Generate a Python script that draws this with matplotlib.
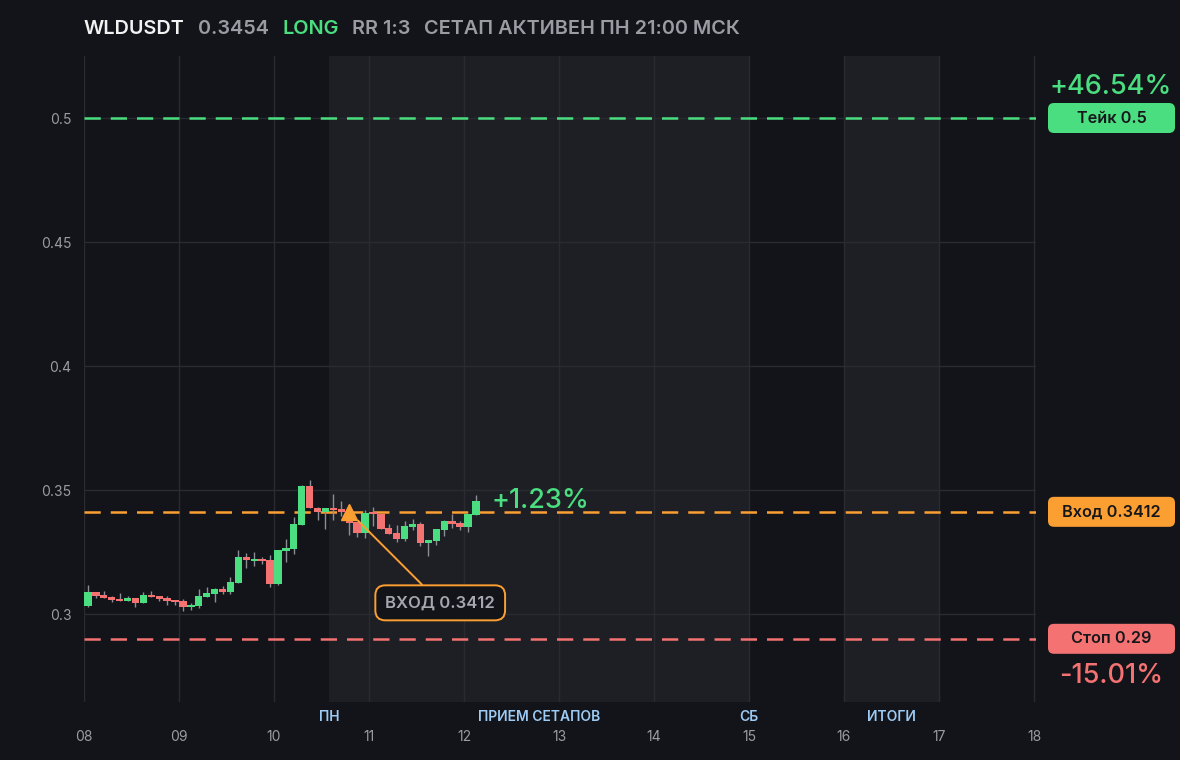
import matplotlib
matplotlib.use("Agg")
import matplotlib.pyplot as plt
from matplotlib.patches import FancyBboxPatch
import numpy as np

plt.rcParams['font.family'] = ['Inter', 'DejaVu Sans']

# ---------------- data ----------------
symbol = "WLDUSDT"
last_price_label = "0.3454"
side = "LONG"
rr_label = "RR 1:3"
setup_label = "СЕТАП АКТИВЕН ПН 21:00 МСК"

start_day = 8.0          # first candle day
candle_hours = 2         # 2h candles

opens = [0.3034, 0.3089, 0.3075, 0.3069, 0.3061, 0.3052, 0.3065, 0.3044, 0.3077, 0.3073,
         0.3065, 0.3057, 0.3052, 0.3028, 0.3032, 0.3069, 0.3081, 0.3101, 0.3089, 0.3125,
         0.3230, 0.3214, 0.3222, 0.3218, 0.3121, 0.3254, 0.3262, 0.3359, 0.3516, 0.3427,
         0.3411, 0.3427, 0.3423, 0.3375, 0.3371, 0.3327, 0.3411, 0.3403, 0.3347, 0.3327,
         0.3302, 0.3351, 0.3363, 0.3286, 0.3294, 0.3339, 0.3375, 0.3367, 0.3351, 0.3399]
closes = [0.3089, 0.3074, 0.3065, 0.3057, 0.3052, 0.3065, 0.3044, 0.3077, 0.3069, 0.3061,
          0.3052, 0.3048, 0.3028, 0.3036, 0.3073, 0.3085, 0.3101, 0.3089, 0.3129, 0.3230,
          0.3218, 0.3222, 0.3214, 0.3121, 0.3258, 0.3266, 0.3363, 0.3516, 0.3427, 0.3411,
          0.3427, 0.3419, 0.3411, 0.3367, 0.3327, 0.3407, 0.3403, 0.3343, 0.3323, 0.3302,
          0.3355, 0.3363, 0.3286, 0.3298, 0.3343, 0.3375, 0.3363, 0.3351, 0.3403, 0.3454]
highs = [0.3117, 0.3090, 0.3093, 0.3073, 0.3085, 0.3073, 0.3065, 0.3089, 0.3093, 0.3073,
         0.3073, 0.3057, 0.3061, 0.3044, 0.3101, 0.3109, 0.3105, 0.3113, 0.3149, 0.3258,
         0.3246, 0.3250, 0.3230, 0.3238, 0.3258, 0.3302, 0.3391, 0.3520, 0.3540, 0.3431,
         0.3427, 0.3484, 0.3456, 0.3431, 0.3371, 0.3419, 0.3431, 0.3403, 0.3363, 0.3359,
         0.3375, 0.3383, 0.3371, 0.3298, 0.3343, 0.3379, 0.3403, 0.3375, 0.3403, 0.3480]
lows = [0.3029, 0.3066, 0.3064, 0.3050, 0.3052, 0.3052, 0.3028, 0.3044, 0.3068, 0.3052,
        0.3036, 0.3036, 0.3012, 0.3016, 0.3024, 0.3068, 0.3048, 0.3081, 0.3081, 0.3125,
        0.3186, 0.3194, 0.3202, 0.3109, 0.3117, 0.3210, 0.3242, 0.3359, 0.3427, 0.3379,
        0.3343, 0.3379, 0.3395, 0.3319, 0.3310, 0.3306, 0.3355, 0.3343, 0.3323, 0.3290,
        0.3294, 0.3339, 0.3274, 0.3234, 0.3278, 0.3315, 0.3347, 0.3339, 0.3331, 0.3399]

take_price = 0.5
entry_price = 0.3412
stop_price = 0.29
entry_candle = 33

x_ticks = [8, 9, 10, 11, 12, 13, 14, 15, 16, 17, 18]
x_tick_labels = ["08", "09", "10", "11", "12", "13", "14", "15", "16", "17", "18"]
y_ticks = [0.3, 0.35, 0.4, 0.45, 0.5]
y_tick_labels = ["0.3", "0.35", "0.4", "0.45", "0.5"]

band1 = (10 + 14 / 24, 15.0)   # приём сетапов
band2 = (16.0, 17.0)           # итоги
band_labels = [("ПН", band1[0]), ("ПРИЕМ СЕТАПОВ", (band1[0] + band1[1]) / 2),
               ("СБ", band1[1]), ("ИТОГИ", (band2[0] + band2[1]) / 2)]

# ---------------- style ----------------
BG = "#131419"
BAND = "#1e1f24"
GRID = "#2a2b31"
GREEN = "#4ade80"
RED = "#f47272"
ORANGE = "#fb9f33"
WICK = "#8b8e96"
GREY = "#9a9ca4"
BLUE = "#9ccbf5"

W, H = 1180, 760
fig = plt.figure(figsize=(W / 100, H / 100), dpi=100, facecolor=BG)
L_px, R_px, T_px, B_px = 84, 1036, 56, 702
ax = fig.add_axes([L_px / W, (H - B_px) / H, (R_px - L_px) / W, (B_px - T_px) / H])
ax.set_facecolor(BG)
for s in ax.spines.values():
    s.set_visible(False)

ax.set_xlim(8.0, 18.021)
ax.set_ylim(0.26452, 0.525)

# bands
ax.axvspan(band1[0], band1[1], color=BAND, zorder=0, lw=0)
ax.axvspan(band2[0], band2[1], color=BAND, zorder=0, lw=0)

# grid
ax.set_xticks(x_ticks)
ax.set_xticklabels(x_tick_labels)
ax.set_yticks(y_ticks)
ax.set_yticklabels(y_tick_labels)
ax.grid(True, color=GRID, lw=1, zorder=0.5)
ax.set_axisbelow(True)
ax.tick_params(axis='both', length=0, colors=GREY, labelsize=10)
ax.tick_params(axis='x', pad=20)
ax.tick_params(axis='y', pad=9)

# level lines
dash = (0, (6.5, 4))
ax.axhline(take_price, color=GREEN, lw=1.8, ls=dash, zorder=2)
ax.axhline(entry_price, color=ORANGE, lw=1.8, ls=dash, zorder=2)
ax.axhline(stop_price, color=RED, lw=1.8, ls=dash, zorder=2)

# candles
step = candle_hours / 24
o = np.array(opens); c = np.array(closes); h = np.array(highs); l = np.array(lows)
xs = start_day + (np.arange(len(o)) + 0.5) * step
up = c >= o
ax.vlines(xs, l, h, color=WICK, lw=1, zorder=3)
body_bottom = np.minimum(o, c)
body_h = np.maximum(np.abs(c - o), 0.0007)
ax.bar(xs, body_h, bottom=body_bottom, width=step * 0.92,
       color=np.where(up, GREEN, RED), lw=0, zorder=4)

# entry marker + annotation
ex = xs[entry_candle]
ax.plot([ex], [entry_price], marker='^', ms=11, color=ORANGE, zorder=6, mec=ORANGE)
ax.annotate("ВХОД " + f"{entry_price:.4f}", xy=(ex, entry_price),
            xytext=(91, -91), textcoords='offset pixels',
            ha='center', va='center', fontsize=12, fontweight='semibold', color="#a5a8b0",
            bbox=dict(boxstyle="round,pad=0.6,rounding_size=0.6", fc=BG, ec=ORANGE, lw=1.4),
            arrowprops=dict(arrowstyle='-', color=ORANGE, lw=1.4, shrinkA=0, shrinkB=9),
            zorder=7)

# current pnl
pnl = (closes[-1] - entry_price) / entry_price * 100
ax.annotate(f"+{pnl:.2f}%" if pnl >= 0 else f"{pnl:.2f}%", xy=(xs[-1], closes[-1]),
            xytext=(16, 0), textcoords='offset pixels', ha='left', va='center',
            fontsize=19.5, fontweight='medium', color=GREEN, zorder=7)

# band labels
for txt, bx in band_labels:
    ax.text(bx, -0.023, txt, transform=ax.get_xaxis_transform(), ha='center', va='center',
            fontsize=10, fontweight='semibold', color=BLUE, clip_on=False)

# right-side labels
inch = fig.dpi_scale_trans

def py_of(val):
    return ax.transData.transform((8.0, val))[1]   # display pixels from bottom

def right_box(val, label, color):
    yc = py_of(val) / 100
    bw, bh = 1.27, 0.30
    xc = 1111.5 / 100
    p = FancyBboxPatch((xc - bw / 2, yc - bh / 2), bw, bh,
                       boxstyle="round,pad=0,rounding_size=0.06",
                       transform=inch, fc=color, ec='none', zorder=5)
    fig.add_artist(p)
    fig.text(xc, yc, label, transform=inch, ha='center', va='center',
             fontsize=11.7, fontweight='semibold', color="#16171b", zorder=6)
    return yc

yt = right_box(take_price, f"Тейк {take_price:g}", GREEN)
right_box(entry_price, f"Вход {entry_price:.4f}", ORANGE)
ys = right_box(stop_price, f"Стоп {stop_price:g}", RED)
take_pct = (take_price - entry_price) / entry_price * 100
stop_pct = (stop_price - entry_price) / entry_price * 100
fig.text(11.11, yt + 0.31, f"+{take_pct:.2f}%", transform=inch, ha='center', va='center',
         fontsize=19.5, fontweight='medium', color=GREEN)
fig.text(11.11, ys - 0.37, f"{stop_pct:.2f}%", transform=inch, ha='center', va='center',
         fontsize=19.5, fontweight='medium', color=RED)

# title
ty = (H - 28.5) / H
title_parts = [(symbol, 84, "#f2f2f2"), (last_price_label, 198, GREY), (side, 283, GREEN),
               (rr_label, 352, GREY), (setup_label, 424, GREY)]
for txt, px, col in title_parts:
    fig.text(px / W, ty, txt, ha='left', va='center', fontsize=14.3,
             fontweight='semibold', color=col)

fig.savefig("out.png", dpi=100, facecolor=BG)
